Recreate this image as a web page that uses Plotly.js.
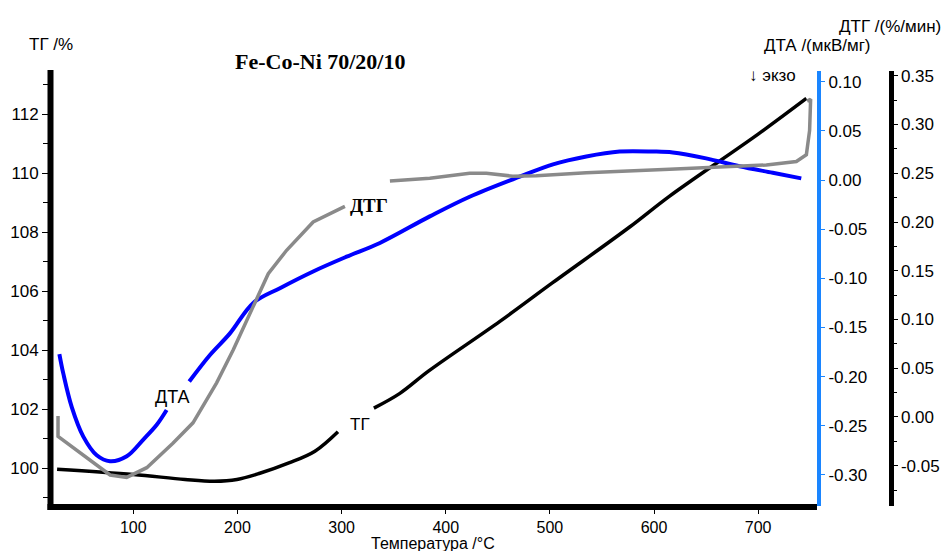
<!DOCTYPE html>
<html><head><meta charset="utf-8">
<script src="https://cdn.plot.ly/plotly-3.0.1.min.js"></script>
<style>html,body{margin:0;padding:0;background:#fff}</style>
</head><body><div id="chart" style="width:948px;height:551px"></div>
<script>
// TG curve (left axis, %)
const tgTemp = [26.8, 100, 149.6, 178, 199.5, 221.5, 249.4, 274.4, 296.5, null, 331, 356, 383.7, 452, 503, 576.6, 615, 700, 746.3];
const tgVal  = [99.97, 99.79, 99.62, 99.56, 99.62, 99.83, 100.18, 100.58, 101.24, null, 102.04, 102.54, 103.30, 104.98, 106.30, 108.18, 109.23, 111.33, 112.54];
// DTA curve (mkV/mg)
const dtaTemp = [29, 32.8, 40.9, 52, 64.9, 77.6, 93.7, 109.6, 122.5, 132, null, 153.7, 173.6, 192.8, 215.2, 240.8, 272.7, 304.8, 336.8, 384.7, 423, 471, 503, 535, 567, 599, 618, 650, 682, 714, 741.4];
const dtaVal  = [-0.177, -0.197, -0.231, -0.261, -0.280, -0.286, -0.281, -0.264, -0.249, -0.234, null, -0.205, -0.178, -0.156, -0.125, -0.110, -0.093, -0.078, -0.064, -0.037, -0.017, 0.0034, 0.016, 0.024, 0.029, 0.029, 0.028, 0.022, 0.014, 0.0074, 0.0017];
// DTG curve (%/min)
const dtgTemp = [27.7, 27.7, 77.7, 93.6, 112.9, 138, 157.3, 180, 196, 229.6, 247.2, 272.7, 303.2, null, 346.4, 384.7, 423, 439, 464.4, 487, 535, 586, 615, 707.9, 736.7, 746.3, 749.4, 750.4, 747];
const dtgVal  = [0.001, -0.020, -0.0595, -0.062, -0.052, -0.027, -0.006, 0.035, 0.069, 0.147, 0.171, 0.200, 0.216, null, 0.242, 0.245, 0.250, 0.250, 0.247, 0.2475, 0.2505, 0.2533, 0.254, 0.2585, 0.262, 0.269, 0.294, 0.326, 0.324];

const xTicks = [100, 200, 300, 400, 500, 600, 700];
const tgTicks = [100, 102, 104, 106, 108, 110, 112];
const dtaTicks = [-0.30, -0.25, -0.20, -0.15, -0.10, -0.05, 0.00, 0.05, 0.10];
const dtgTicks = [-0.05, 0.00, 0.05, 0.10, 0.15, 0.20, 0.25, 0.30, 0.35];

const fmt = v => (v < 0 ? '-' : '') + Math.abs(v).toFixed(2);

const W = 948, H = 551, L = 50, R = 57, T = 71, B = 45;
const XD = 0.912;
const px = x => (x - L) / (W - L - R);
const py = y => (H - B - y) / (H - T - B);
const SANS = 'Liberation Sans, Arial, sans-serif';
const SERIF = 'Liberation Serif, Times New Roman, serif';

const traces = [
  {x: dtgTemp, y: dtgVal, yaxis: 'y3', mode: 'lines', line: {color: '#8a8a8a', width: 3.5}, connectgaps: false, hoverinfo: 'skip'},
  {x: dtaTemp, y: dtaVal, yaxis: 'y2', mode: 'lines', line: {color: '#0000ff', width: 4, shape: 'spline', smoothing: 1}, connectgaps: false, hoverinfo: 'skip'},
  {x: tgTemp, y: tgVal, yaxis: 'y', mode: 'lines', line: {color: '#000000', width: 3.5, shape: 'spline', smoothing: 1}, connectgaps: false, hoverinfo: 'skip'}
];

const tickFont = {family: SANS, size: 17, color: '#000'};
const layout = {
  width: W, height: H,
  margin: {l: L, r: R, t: T, b: B, pad: 0},
  paper_bgcolor: '#fff', plot_bgcolor: '#fff',
  showlegend: false,
  xaxis: {domain: [0, XD], range: [20, 756.5], showline: false,
    ticks: 'outside', ticklen: 7, tickwidth: 1, tickcolor: '#000', tickvals: xTicks, ticktext: xTicks.map(String),
    showgrid: false, zeroline: false, tickfont: {family: SANS, size: 16, color: '#000'}},
  yaxis: {range: [98.72, 113.47], showline: false,
    ticks: 'outside', ticklen: 7, tickwidth: 1, tickcolor: '#000', tickvals: tgTicks, ticktext: tgTicks.map(String),
    minor: {tickvals: [99, 101, 103, 105, 107, 109, 111, 113], ticklen: 6, tickcolor: '#000', ticks: 'outside'},
    showgrid: false, zeroline: false, tickfont: tickFont},
  yaxis2: {overlaying: 'y', side: 'right', anchor: 'x', range: [-0.3316, 0.1109], showline: true, linewidth: 4, linecolor: '#1a85ff',
    ticks: 'outside', ticklen: 4, tickwidth: 1, tickcolor: '#1a85ff', tickvals: dtaTicks, ticktext: dtaTicks.map(fmt),
    showgrid: false, zeroline: false, tickfont: tickFont},
  yaxis3: {overlaying: 'y', side: 'right', anchor: 'free', position: 1, range: [-0.0913, 0.3549], showline: true, linewidth: 4.5, linecolor: '#000',
    ticks: 'outside', ticklen: 4, tickwidth: 1, tickcolor: '#000', tickvals: dtgTicks, ticktext: dtgTicks.map(fmt),
    minor: {dtick: 0.025, tick0: 0, ticklen: 3, tickcolor: '#000', ticks: 'outside'},
    showgrid: false, zeroline: false, tickfont: tickFont},
  shapes: [
    {type: 'rect', xref: 'paper', yref: 'paper', x0: px(47.5), x1: px(53.5), y0: py(510), y1: py(70), fillcolor: '#000', line: {width: 0}, layer: 'above'},
    {type: 'rect', xref: 'paper', yref: 'paper', x0: px(47.5), x1: XD, y0: py(510), y1: py(504), fillcolor: '#000', line: {width: 0}, layer: 'above'}
  ],
  annotations: [
    {text: 'Fe-Co-Ni 70/20/10', x: px(320), y: py(61), xref: 'paper', yref: 'paper', showarrow: false, xanchor: 'center', yanchor: 'middle', font: {family: SERIF, size: 22, color: '#000', weight: 'bold'}},
    {text: 'ТГ /%', x: px(51), y: py(44), xref: 'paper', yref: 'paper', showarrow: false, xanchor: 'center', yanchor: 'middle', font: {family: SANS, size: 17, color: '#000'}},
    {text: 'ДТГ /(%/мин)', x: px(890), y: py(27), xref: 'paper', yref: 'paper', showarrow: false, xanchor: 'center', yanchor: 'middle', font: {family: SANS, size: 17, color: '#000'}},
    {text: 'ДТА /(мкВ/мг)', x: px(817), y: py(45), xref: 'paper', yref: 'paper', showarrow: false, xanchor: 'center', yanchor: 'middle', font: {family: SANS, size: 17, color: '#000'}},
    {text: '↓ экзо', x: px(772), y: py(75), xref: 'paper', yref: 'paper', showarrow: false, xanchor: 'center', yanchor: 'middle', font: {family: SANS, size: 17, color: '#000'}},
    {text: 'Температура /°C', x: px(433), y: py(543), xref: 'paper', yref: 'paper', showarrow: false, xanchor: 'center', yanchor: 'middle', font: {family: SANS, size: 16, color: '#000'}},
    {text: 'ДТГ', x: px(369), y: py(205), xref: 'paper', yref: 'paper', showarrow: false, xanchor: 'center', yanchor: 'middle', font: {family: SERIF, size: 19, color: '#000', weight: 'bold'}},
    {text: 'ДТА', x: px(172), y: py(397), xref: 'paper', yref: 'paper', showarrow: false, xanchor: 'center', yanchor: 'middle', font: {family: SANS, size: 18, color: '#000'}},
    {text: 'ТГ', x: px(360), y: py(424), xref: 'paper', yref: 'paper', showarrow: false, xanchor: 'center', yanchor: 'middle', font: {family: SANS, size: 17, color: '#000'}}
  ]
};
Plotly.newPlot('chart', traces, layout, {displayModeBar: false, staticPlot: true});
</script></body></html>
